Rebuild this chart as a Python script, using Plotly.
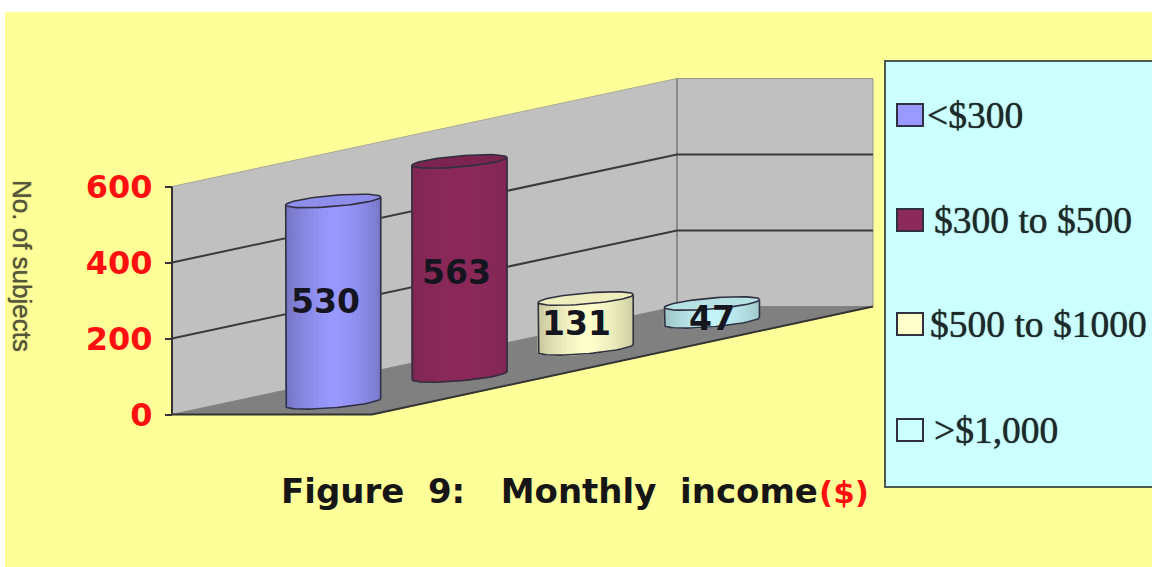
import numpy as np
import plotly.graph_objects as go

# ---- chart data ----
categories = ["<$300", "$300 to $500", "$500 to $1000", ">$1,000"]
values = [530, 563, 131, 47]
value_ticks = [0, 200, 400, 600]
colors = ["#9999FF", "#8B2A5A", "#FFFFCC", "#C4F4F8"]
shade_strength = [0.22, 0.06, 0.20, 0.18]
y_title = "No. of subjects"
fig_title = "Figure\u00a0 9:\u00a0\u00a0 Monthly\u00a0 income"
fig_title_unit = "($)"

# ---- projection (layout constants) ----
W, H = 1152, 567
ZERO_PX = 414.5          # pixel row of value 0 at the front-left of the wall
K = 0.38                 # pixels per value unit
LEFT = 172
DEPTH_X, DEPTH_PX = 505, 108
WIDTH_X = 200
TOP = 600


def px_to_val(p):
    return np.asarray(p, dtype=float) / K


def proj(u, d, v):
    """u across the floor (0..1), d into the depth (0..1), v the value."""
    return LEFT + u * WIDTH_X + d * DEPTH_X, v + px_to_val(d * DEPTH_PX)


def shade(hex_c, f):
    r, g, b = (int(hex_c[i:i + 2], 16) for i in (1, 3, 5))
    return f"rgb({int(r*f)},{int(g*f)},{int(b*f)})"


fig = go.Figure()


def poly(xs, ys, fill=None, line=None, lw=1.0):
    fig.add_trace(go.Scatter(
        x=list(xs), y=list(ys), mode="lines", showlegend=False, hoverinfo="skip",
        fill="toself" if fill else "none", fillcolor=fill,
        line=dict(color=line or fill, width=lw)))


# walls and floor
a = proj(0, 0, 0); b = proj(0, 1, 0); c = proj(0, 1, TOP); d = proj(0, 0, TOP)
poly([a[0], b[0], c[0], d[0], a[0]], [a[1], b[1], c[1], d[1], a[1]], fill="#C0C0C0", line="#A8A89A")
bx, by = b
rx = 873
poly([bx, rx, rx, bx, bx], [by, by, c[1], c[1], by], fill="#C0C0C0", line="#989890")
fr = proj(1, 0, 0)
poly([a[0], fr[0], rx, bx, a[0]], [a[1], fr[1], by, by, a[1]], fill="#808080", line="#808080")
# front edge of the floor
poly([a[0], fr[0], rx], [a[1], fr[1], by], line="#333333", lw=2)
# back corner
poly([bx, bx], [by, c[1]], line="#8A8A8A", lw=2)

# gridlines
for t in value_ticks[1:-1]:
    p0 = proj(0, 0, t); p1 = proj(0, 1, t)
    poly([p0[0], p1[0], rx], [p0[1], p1[1], p1[1]], line="#3A3A3A", lw=2)

# value axis line
p0 = proj(0, 0, 0); p1 = proj(0, 0, TOP)
poly([p0[0], p1[0]], [p0[1], p1[1]], line="#333333", lw=2)

# cylinders
R, RY, TILT = 47.5, 5.5, 4.0
N = 30
for i, v in enumerate(values):
    cx, base = proj(0.522, (i + 0.45) / 4, 0)
    top = base + v

    def ell(t, level):
        return cx + R * np.cos(t), level + px_to_val(TILT * np.cos(t) - RY * np.sin(t))

    ts = np.linspace(np.pi, 0, N + 1)
    for j in range(N):
        t0, t1 = ts[j], ts[j + 1]
        tm = (t0 + t1) / 2
        fac = 1 - shade_strength[i] * abs(np.cos(tm) - 0.05) ** 1.5
        x0, y0b = ell(t0, base); x1, y1b = ell(t1, base)
        _, y0t = ell(t0, top); _, y1t = ell(t1, top)
        poly([x0, x1, x1, x0, x0], [y0b, y1b, y1t, y0t, y0b], fill=shade(colors[i], fac), lw=1.2)
    # cap
    tt = np.linspace(0, 2 * np.pi, 61)
    cx_, cy_ = ell(tt, top)
    poly(cx_, cy_, fill=shade(colors[i], 0.88 if i == 1 else 0.93), line="#303040", lw=1.6)
    # silhouette
    tb = np.linspace(np.pi, 0, 41)
    bxs, bys = ell(tb, base)
    lx, ly = ell(np.array([np.pi]), top)
    rx_, ry_ = ell(np.array([0.0]), top)
    poly([lx[0], *bxs, rx_[0]], [ly[0], *bys, ry_[0]], line="#303040", lw=1.6)

# ---- annotations ----
ann = []


def pxy(p):
    return 1 - p / H


def label(x, y, text, size, color, family, bold=False, xanchor="left", angle=0, soft=False):
    font = dict(size=size, color=color, family=family, weight=700 if bold else 400)
    if soft:
        font["shadow"] = f"0 0 1px {color}"
    ann.append(dict(xref="paper", yref="paper", x=x / W, y=pxy(y), text=text,
                    showarrow=False, xanchor=xanchor, yanchor="middle", textangle=angle,
                    font=font))


# value labels on the cylinders
label_shift = [(-8, 0), (-3, 4), (-9, 0), (0, 6)]
for i, v in enumerate(values):
    cx, base = proj(0.522, (i + 0.45) / 4, 0)
    row = ZERO_PX - K * (base + v / 2)
    label(cx + label_shift[i][0], row + label_shift[i][1], str(v), 33, "#15151F",
          "DejaVu Sans", True, "center")

label(22, 266, y_title, 26, "#55553A", "Liberation Sans", False, "center", 90, soft=True)
label(279, 491, fig_title, 34, "#161616", "DejaVu Sans", True)
label(817, 492, fig_title_unit, 31, "#FF1010", "DejaVu Sans", True)

# legend box text and swatches
legend_rows = [115, 220, 324, 430]
legend_x = [925, 932, 928, 932]
shapes = [
    dict(type="rect", xref="paper", yref="paper", x0=5 / W, x1=1, y0=0, y1=pxy(12),
         fillcolor="#FFFF99", line=dict(width=0), layer="below"),
    dict(type="rect", xref="paper", yref="paper", x0=885 / W, x1=1.01, y0=pxy(487), y1=pxy(61),
         fillcolor="#CCFFFF", line=dict(color="#4A5A50", width=2), layer="below"),
]
swatch_colors = ["#9999FF", "#8B2A5A", "#FFFFCC", "#CCFFFF"]
for name, row, lx_, col in zip(categories, legend_rows, legend_x, swatch_colors):
    label(lx_, row, name.replace("<", "&lt;").replace(">", "&gt;"), 37.5, "#1E2A2A",
          "Liberation Serif", soft=True)
    shapes.append(dict(type="rect", xref="paper", yref="paper", x0=897 / W, x1=923 / W,
                       y0=pxy(row + 11), y1=pxy(row - 11), fillcolor=col,
                       line=dict(color="#303040", width=2)))

fig.update_layout(
    width=W, height=H, margin=dict(l=0, r=0, t=0, b=0),
    paper_bgcolor="white", plot_bgcolor="rgba(0,0,0,0)",
    showlegend=False, shapes=shapes, annotations=ann,
    xaxis=dict(range=[0, W], visible=False, fixedrange=True),
    yaxis=dict(range=[(ZERO_PX - H) / K, ZERO_PX / K], anchor="free", position=LEFT / W,
               tickmode="array", tickvals=value_ticks, ticks="outside", ticklen=7, tickwidth=2,
               tickcolor="#333333", showgrid=False, zeroline=False, showline=False,
               ticklabelstandoff=6, fixedrange=True,
               tickfont=dict(size=32, color="#FF1010", family="DejaVu Sans", weight=700)),
)
fig.write_html("out.html", config=dict(displayModeBar=False),
               post_script="document.body.style.margin='0';document.body.style.overflow='hidden';")
